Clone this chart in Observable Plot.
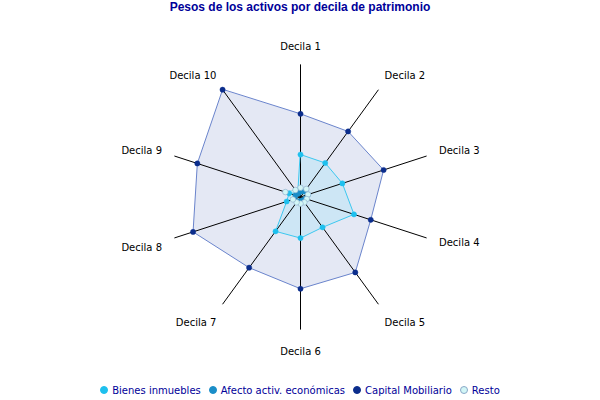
<!DOCTYPE html>
<html>
<head>
<meta charset="utf-8">
<script src="https://cdn.jsdelivr.net/npm/d3@7"></script>
<script src="https://cdn.jsdelivr.net/npm/@observablehq/plot@0.6"></script>
<style>
  body { margin: 0; background: #fff; width: 600px; height: 400px; overflow: hidden; }
  #title { height: 20px; line-height: 17px; text-align: center; font: bold 12px "Liberation Sans", Arial, sans-serif; color: #000099; }
  #chart svg { display: block; }
  #legend { height: 20px; display: flex; justify-content: center; align-items: center; font: 10px "DejaVu Sans", Verdana, sans-serif; color: #000099; margin-top: 0px; }
  .item { display: flex; align-items: center; margin: 0 4px; }
  .sw { width: 8px; height: 8px; border-radius: 50%; margin-right: 4px; box-sizing: border-box; }
</style>
</head>
<body>
<div id="title">Pesos de los activos por decila de patrimonio</div>
<div id="chart"></div>
<div id="legend"></div>
<script>
const deciles = ["Decila 1","Decila 2","Decila 3","Decila 4","Decila 5","Decila 6","Decila 7","Decila 8","Decila 9","Decila 10"];
const seriesNames = ["Bienes inmuebles","Afecto activ. económicas","Capital Mobiliario","Resto"];
const bienes   = [0.32, 0.317, 0.332, 0.424, 0.283, 0.31, 0.32, 0.11, 0.09, 0.04];
const afecto   = [0.04, 0.05, 0.06, 0.04, 0.03, 0.03, 0.04, 0.05, 0.04, 0.03];
const capital  = [0.627, 0.611, 0.659, 0.557, 0.703, 0.692, 0.659, 0.852, 0.818, 1.0];
const resto    = [0.07, 0.075, 0.06, 0.05, 0.05, 0.05, 0.05, 0.06, 0.12, 0.065];
const axisMax = 1.0;

const colors = {
  "Bienes inmuebles": {fill: "#cde6f5", stroke: "#3cc8f0", dot: "#1ec0ee", dotStroke: "#1ec0ee"},
  "Afecto activ. económicas": {fill: "#5aa8d8", stroke: "#1a8ec8", dot: "#1a8ec8", dotStroke: "#1a8ec8"},
  "Capital Mobiliario": {fill: "#e4e8f4", stroke: "#6a84cc", dot: "#0b2d8c", dotStroke: "#0b2d8c"},
  "Resto": {fill: "#e0f6f6", stroke: "#9ad8e0", dot: "#d2f6f6", dotStroke: "#8aa8c8"}
};

const n = deciles.length;
const ang = i => i * 2 * Math.PI / n;
const px = (v, i) => v * Math.sin(ang(i));
const py = (v, i) => v * Math.cos(ang(i));

const seriesData = {
  "Bienes inmuebles": bienes,
  "Afecto activ. económicas": afecto,
  "Capital Mobiliario": capital,
  "Resto": resto
};
const pts = name => seriesData[name].map((v, i) => ({name, i, x: px(v / axisMax, i), y: py(v / axisMax, i)}));

const axes = deciles.map((d, i) => ({d, i, x: px(1, i), y: py(1, i)}));
const labels = deciles.map((d, i) => ({d, i, x: px(1.13, i), y: py(1.13, i),
  anchor: (i === 0 || i === 5) ? "middle" : (i < 5 ? "start" : "end"), lower: (i >= 4 && i <= 7) || i === 5}));

const drawOrder = ["Capital Mobiliario", "Bienes inmuebles", "Afecto activ. económicas", "Resto"];
const marks = [];
for (const s of drawOrder) {
  marks.push(Plot.line(pts(s), {x: "x", y: "y", curve: "linear-closed", fill: colors[s].fill, stroke: "none"}));
}
marks.push(Plot.link(axes, {x1: 0, y1: 0, x2: "x", y2: "y", stroke: "#000", strokeWidth: 1}));
for (const s of drawOrder) {
  marks.push(Plot.line(pts(s), {x: "x", y: "y", curve: "linear-closed", stroke: colors[s].stroke, strokeWidth: 1}));
}
for (const s of drawOrder) {
  marks.push(Plot.dot(pts(s), {x: "x", y: "y", r: s === "Resto" ? 2.8 : 2.6, fill: colors[s].dot, stroke: colors[s].dotStroke, strokeWidth: s === "Resto" ? 0.6 : 0.5}));
}
for (const anchor of ["start", "middle", "end"]) {
  for (const lower of [false, true]) {
    const sub = labels.filter(l => l.anchor === anchor && l.lower === lower);
    if (!sub.length) continue;
    marks.push(Plot.text(sub, {x: "x", y: "y", text: "d", textAnchor: anchor, dy: lower ? 5 : 0, dx: anchor === "start" ? -4 : (anchor === "end" ? 4 : 0),
      fill: "#000", fontSize: 10, fontFamily: "DejaVu Sans, Verdana, sans-serif"}));
  }
}

const chart = Plot.plot({
  width: 600,
  height: 360,
  margin: 0,
  x: {domain: [-2.2624, 2.2624], axis: null},
  y: {domain: [-1.384, 1.331], axis: null},
  marks
});
document.getElementById("chart").appendChild(chart);

const legend = document.getElementById("legend");
for (const s of seriesNames) {
  const item = document.createElement("div");
  item.className = "item";
  const sw = document.createElement("div");
  sw.className = "sw";
  sw.style.background = colors[s].dot;
  sw.style.border = "1px solid " + colors[s].dotStroke;
  item.appendChild(sw);
  const t = document.createElement("span");
  t.textContent = s;
  item.appendChild(t);
  legend.appendChild(item);
}
</script>
</body>
</html>
